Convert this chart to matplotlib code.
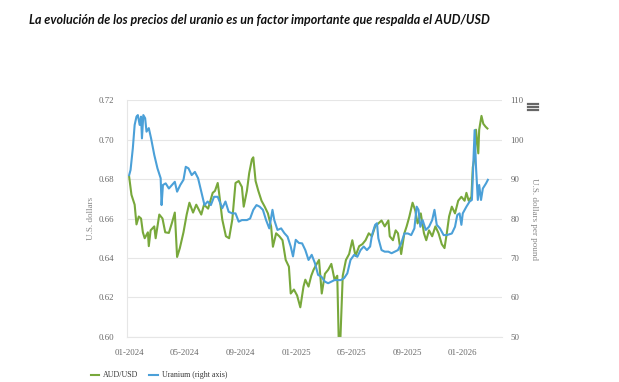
import pandas as pd
import matplotlib.pyplot as plt
import matplotlib.dates as mdates
from matplotlib.lines import Line2D

title = "La evolución de los precios del uranio es un factor importante que respalda el AUD/USD"

aud_dates = [
    "2024-01-01", "2024-01-06", "2024-01-13", "2024-01-17", "2024-01-22", "2024-01-27", "2024-01-31",
    "2024-02-04", "2024-02-11", "2024-02-13", "2024-02-17", "2024-02-25", "2024-02-28", "2024-03-07",
    "2024-03-14", "2024-03-20", "2024-03-28", "2024-04-04", "2024-04-10", "2024-04-15", "2024-04-21",
    "2024-04-29", "2024-05-06", "2024-05-12", "2024-05-20", "2024-05-27", "2024-06-07", "2024-06-13",
    "2024-06-22", "2024-07-02", "2024-07-07", "2024-07-13", "2024-07-16", "2024-07-23", "2024-07-31",
    "2024-08-07", "2024-08-14", "2024-08-21", "2024-08-28", "2024-09-04", "2024-09-08", "2024-09-15",
    "2024-09-20", "2024-09-26", "2024-09-29", "2024-10-04", "2024-10-10", "2024-10-17", "2024-10-24",
    "2024-10-31", "2024-11-07", "2024-11-11", "2024-11-18", "2024-11-25", "2024-12-02", "2024-12-09",
    "2024-12-16", "2024-12-20", "2024-12-27", "2025-01-03", "2025-01-10", "2025-01-17", "2025-01-21",
    "2025-01-28", "2025-02-03", "2025-02-08", "2025-02-15", "2025-02-20", "2025-02-26", "2025-03-05",
    "2025-03-12", "2025-03-19", "2025-03-26", "2025-04-01", "2025-04-04", "2025-04-08", "2025-04-13",
    "2025-04-20", "2025-04-27", "2025-05-04", "2025-05-11", "2025-05-19", "2025-05-26", "2025-06-02",
    "2025-06-09", "2025-06-16", "2025-06-23", "2025-06-30", "2025-07-07", "2025-07-14", "2025-07-22",
    "2025-07-25", "2025-08-01", "2025-08-07", "2025-08-12", "2025-08-19", "2025-08-26", "2025-08-31",
    "2025-09-06", "2025-09-13", "2025-09-19", "2025-09-24", "2025-10-01", "2025-10-08", "2025-10-13",
    "2025-10-19", "2025-10-26", "2025-11-02", "2025-11-09", "2025-11-16", "2025-11-22", "2025-11-27",
    "2025-12-02", "2025-12-08", "2025-12-15", "2025-12-22", "2025-12-29", "2026-01-05", "2026-01-09",
    "2026-01-14", "2026-01-20", "2026-01-23", "2026-01-27", "2026-01-30", "2026-02-04", "2026-02-06",
    "2026-02-11", "2026-02-15", "2026-02-20", "2026-02-24",
]
aud_usd = [
    0.681, 0.672, 0.667, 0.657, 0.661, 0.660, 0.653,
    0.650, 0.653, 0.646, 0.654, 0.656, 0.650, 0.662,
    0.660, 0.653, 0.6527, 0.658, 0.663, 0.6405, 0.645,
    0.653, 0.662, 0.668, 0.663, 0.667, 0.662, 0.667,
    0.665, 0.673, 0.674, 0.678, 0.673, 0.6595, 0.651,
    0.650, 0.6595, 0.678, 0.679, 0.676, 0.666, 0.674,
    0.683, 0.690, 0.691, 0.679, 0.674, 0.669, 0.666,
    0.6626, 0.656, 0.6457, 0.6525, 0.651, 0.649, 0.639,
    0.6356, 0.622, 0.624, 0.621, 0.615, 0.6255, 0.629,
    0.6255, 0.631, 0.634, 0.637, 0.639, 0.622, 0.632,
    0.634, 0.637, 0.629, 0.631, 0.600, 0.600, 0.631,
    0.639, 0.642, 0.649, 0.641, 0.646, 0.647, 0.649,
    0.6525, 0.651, 0.656, 0.6575, 0.659, 0.656, 0.659,
    0.651, 0.649, 0.654, 0.6525, 0.642, 0.6525, 0.656,
    0.661, 0.668, 0.664, 0.6575, 0.6626, 0.6525, 0.649,
    0.654, 0.651, 0.656, 0.6525, 0.647, 0.645, 0.6525,
    0.661, 0.666, 0.6626, 0.669, 0.671, 0.669, 0.673,
    0.669, 0.671, 0.686, 0.691, 0.705, 0.693, 0.705,
    0.712, 0.708, 0.7065, 0.7056,
]

uranium_dates = [
    "2024-01-01", "2024-01-04", "2024-01-09", "2024-01-13", "2024-01-17", "2024-01-20", "2024-01-24",
    "2024-01-27", "2024-01-29", "2024-02-01", "2024-02-05", "2024-02-08", "2024-02-13", "2024-02-18",
    "2024-02-25", "2024-03-03", "2024-03-10", "2024-03-12", "2024-03-15", "2024-03-21", "2024-03-28",
    "2024-04-04", "2024-04-10", "2024-04-15", "2024-04-22", "2024-04-29", "2024-05-04", "2024-05-10",
    "2024-05-17", "2024-05-24", "2024-05-31", "2024-06-07", "2024-06-14", "2024-06-21", "2024-06-28",
    "2024-07-05", "2024-07-13", "2024-07-23", "2024-07-30", "2024-08-06", "2024-08-14", "2024-08-21",
    "2024-08-28", "2024-09-04", "2024-09-15", "2024-09-22", "2024-09-29", "2024-10-06", "2024-10-13",
    "2024-10-20", "2024-10-27", "2024-11-03", "2024-11-10", "2024-11-14", "2024-11-21", "2024-11-29",
    "2024-12-06", "2024-12-13", "2024-12-20", "2024-12-25", "2024-12-31", "2025-01-07", "2025-01-14",
    "2025-01-21", "2025-01-28", "2025-02-04", "2025-02-11", "2025-02-18", "2025-02-25", "2025-03-05",
    "2025-03-12", "2025-03-19", "2025-03-26", "2025-04-02", "2025-04-09", "2025-04-16", "2025-04-23",
    "2025-04-30", "2025-05-08", "2025-05-15", "2025-05-22", "2025-05-29", "2025-06-05", "2025-06-12",
    "2025-06-16", "2025-06-23", "2025-06-27", "2025-06-30", "2025-07-07", "2025-07-14", "2025-07-22",
    "2025-07-29", "2025-08-05", "2025-08-12", "2025-08-19", "2025-08-26", "2025-09-03", "2025-09-10",
    "2025-09-17", "2025-09-22", "2025-09-26", "2025-09-30", "2025-10-05", "2025-10-12", "2025-10-19",
    "2025-10-26", "2025-10-31", "2025-11-05", "2025-11-12", "2025-11-20", "2025-11-27", "2025-12-08",
    "2025-12-15", "2025-12-20", "2025-12-25", "2025-12-29", "2026-01-01", "2026-01-09", "2026-01-16",
    "2026-01-21", "2026-01-23", "2026-01-27", "2026-01-30", "2026-02-03", "2026-02-06", "2026-02-10",
    "2026-02-14", "2026-02-21", "2026-02-25",
]
uranium = [
    91.0, 92.3, 97.8, 103.7, 105.8, 106.2, 103.7,
    105.8, 100.3, 106.2, 105.4, 102.0, 102.9, 100.3,
    96.1, 92.7, 90.2, 83.4, 88.5, 88.9, 87.6,
    88.5, 89.3, 86.8, 88.5, 89.8, 93.1, 92.7,
    91.0, 91.8, 90.2, 86.8, 83.4, 84.3, 83.4,
    85.5, 85.5, 82.6, 84.3, 81.7, 81.3, 81.3,
    79.2, 79.6, 79.6, 80.0, 82.2, 83.4, 83.0,
    82.2, 79.6, 77.5, 82.2, 79.6, 77.1, 77.5,
    76.3, 75.4, 72.9, 70.4, 74.6, 73.8, 73.7,
    72.0, 69.5, 70.8, 68.7, 65.7, 65.3, 64.0,
    63.6, 64.0, 64.4, 64.4, 64.4, 64.9, 66.1,
    69.5, 70.8, 70.3, 72.0, 72.9, 72.0, 72.9,
    75.8, 78.4, 78.8, 75.0, 72.0, 71.6, 71.6,
    71.2, 71.6, 72.0, 73.7, 76.2, 76.2, 75.8,
    77.5, 83.0, 82.2, 77.9, 79.6, 77.1, 77.9,
    79.6, 82.2, 78.4, 77.5, 75.8, 75.8, 76.2,
    77.9, 80.9, 81.3, 78.4, 81.3, 83.0, 84.3,
    84.7, 90.6, 102.4, 93.1, 84.7, 88.5, 84.7,
    87.6, 88.9, 89.8,
]

left_ticks = [0.60, 0.62, 0.64, 0.66, 0.68, 0.70, 0.72]
right_ticks = [50, 60, 70, 80, 90, 100, 110]
x_ticks = ["2024-01-01", "2024-05-01", "2024-09-01", "2025-01-01", "2025-05-01", "2025-09-01", "2026-01-01"]

green = "#78a83b"
blue = "#4ba0d8"
label_color = "#666666"
small_font = "Liberation Serif"

fig = plt.figure(figsize=(6.19, 3.82), dpi=100)
ax = fig.add_axes([0.205, 0.118, 0.606, 0.62])
ax2 = ax.twinx()

ax.plot(pd.to_datetime(aud_dates), aud_usd, color=green, lw=1.5, label="AUD/USD")
ax2.plot(pd.to_datetime(uranium_dates), uranium, color=blue, lw=1.5, label="Uranium (right axis)")

ax.set_ylim(0.60, 0.72)
ax2.set_ylim(50, 110)
ax.set_yticks(left_ticks)
ax.set_yticklabels([f"{t:.2f}" for t in left_ticks])
ax2.set_yticks(right_ticks)
ax.set_xlim(pd.Timestamp("2023-12-27"), pd.Timestamp("2026-03-28"))
ax.set_xticks(pd.to_datetime(x_ticks))
ax.xaxis.set_major_formatter(mdates.DateFormatter("%m-%Y"))

ax.grid(axis="y", color="#e6e6e6", lw=0.8)
ax.grid(axis="x", visible=False)
for a in (ax, ax2):
    for s in a.spines.values():
        s.set_visible(False)
    a.tick_params(length=0, labelsize=6.3, labelcolor=label_color)
    for lab in a.get_xticklabels() + a.get_yticklabels():
        lab.set_family(small_font)
ax.spines["left"].set_visible(True)
ax.spines["left"].set_color("#e6e6e6")
ax.spines["bottom"].set_visible(True)
ax.spines["bottom"].set_color("#e6e6e6")
ax.tick_params(axis="y", pad=9)
ax.tick_params(axis="x", pad=9)
ax2.tick_params(axis="y", pad=6)

ax.set_ylabel("U.S. dollars", fontsize=6.5, color="#888888", family=small_font, labelpad=3)
ax2.set_ylabel("U.S. dollars per pound", fontsize=6.5, color="#888888", family=small_font,
               rotation=270, labelpad=10)

fig.text(0.047, 0.947, title, fontsize=9.0, fontweight="bold", fontstyle="italic",
         family="Lato", ha="left", va="center", color="#111111")

# menu icon, top right of the plot
for yy in (0.729, 0.72, 0.711):
    fig.add_artist(Line2D([0.853, 0.869], [yy, yy], color="#666666", lw=1.6))

h1, l1 = ax.get_legend_handles_labels()
h2, l2 = ax2.get_legend_handles_labels()
fig.legend(h1 + h2, l1 + l2, loc="lower left", bbox_to_anchor=(0.135, -0.012), ncol=2, frameon=False,
           prop={"family": small_font, "size": 5.7}, handlelength=1.1, columnspacing=1.3,
           handletextpad=0.5, labelcolor="#333333")

fig.savefig("out.png", dpi=100)
